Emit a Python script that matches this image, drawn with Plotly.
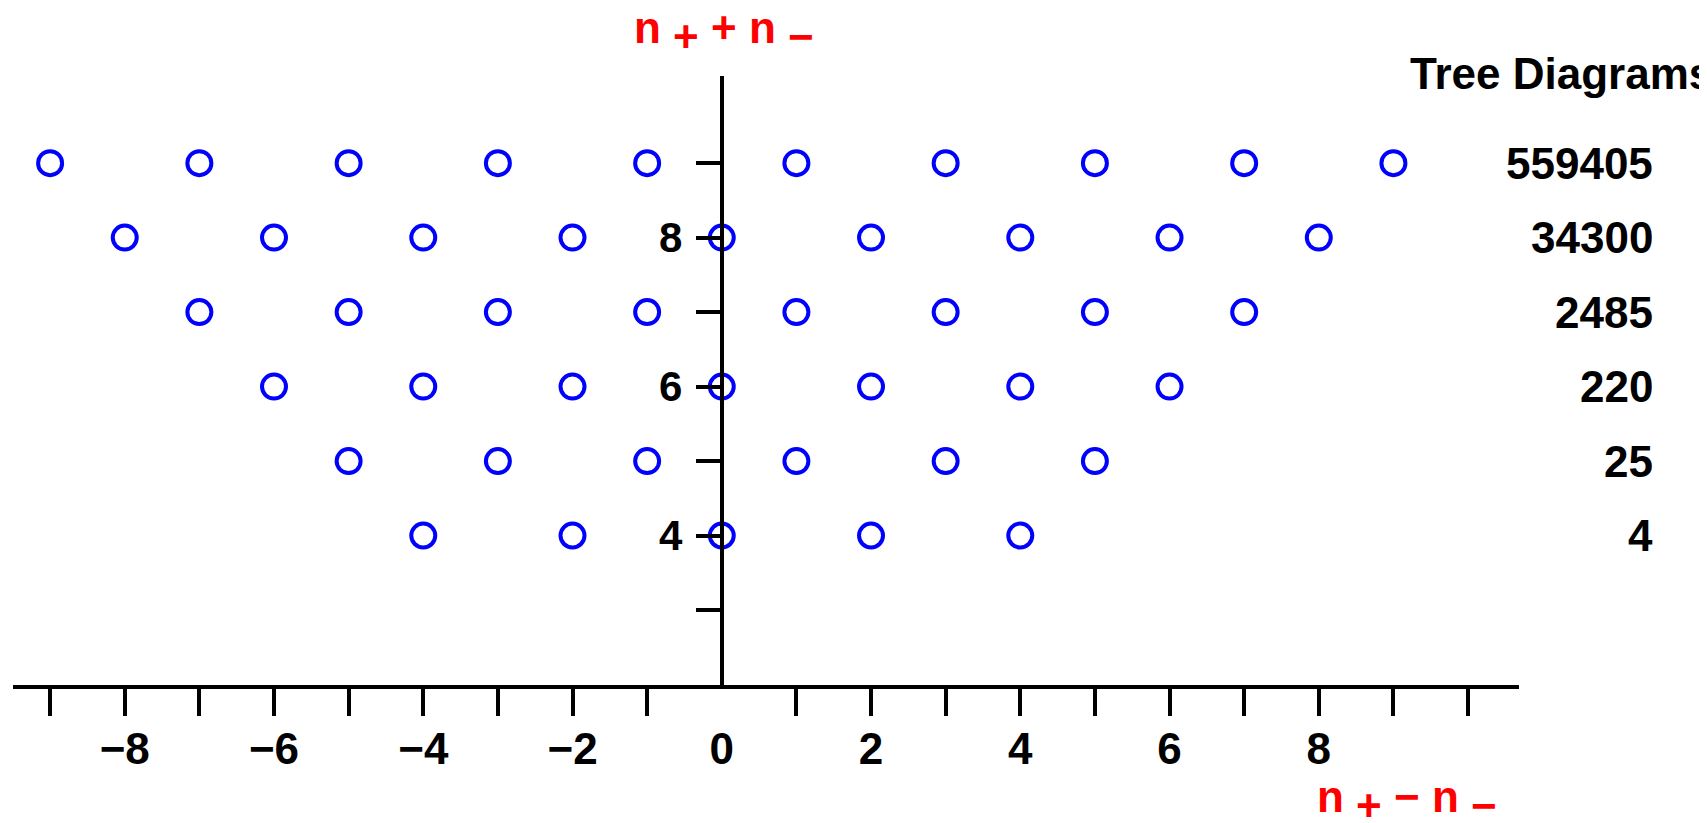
import plotly.graph_objects as go

# ---- data ----
row_y = [9, 8, 7, 6, 5, 4]
row_x = [
    [-9, -7, -5, -3, -1, 1, 3, 5, 7, 9],
    [-8, -6, -4, -2, 0, 2, 4, 6, 8],
    [-7, -5, -3, -1, 1, 3, 5, 7],
    [-6, -4, -2, 0, 2, 4, 6],
    [-5, -3, -1, 1, 3, 5],
    [-4, -2, 0, 2, 4],
]
tree_counts = ["559405", "34300", "2485", "220", "25", "4"]

x_tick_vals = [-9, -8, -7, -6, -5, -4, -3, -2, -1, 1, 2, 3, 4, 5, 6, 7, 8, 9, 10]
x_label_vals = [-8, -6, -4, -2, 0, 2, 4, 6, 8]
x_label_text = ["−8", "−6", "−4", "−2", "0", "2", "4", "6", "8"]
y_tick_vals = [3, 4, 5, 6, 7, 8, 9]
y_tick_text = ["", "4", "", "6", "", "8", ""]

xs, ys = [], []
for yv, row in zip(row_y, row_x):
    for xv in row:
        xs.append(xv)
        ys.append(yv)

# page body has an 8px margin; figure sized to fill the rest of the window
W, H = 1699, 815
FONT = "Liberation Sans, Arial, Helvetica, sans-serif"

fig = go.Figure()
fig.add_trace(go.Scatter(
    x=xs, y=ys, mode="markers",
    marker=dict(symbol="circle-open", size=24, color="#0000ff",
                line=dict(width=4, color="#0000ff")),
    cliponaxis=False, showlegend=False, hoverinfo="x+y",
))
# dummy trace for the label axis
fig.add_trace(go.Scatter(x=[None], y=[None], xaxis="x2", yaxis="y", showlegend=False))

xdom = [4.8 / W, 1510.8 / W]
ydom = [(H - 676.5) / H, (H - 68) / H]

fig.update_layout(
    width=W, height=H,
    margin=dict(l=0, r=0, t=0, b=0),
    paper_bgcolor="white", plot_bgcolor="white",
    font=dict(family=FONT, color="black", size=40, weight="bold"),
    xaxis=dict(
        domain=xdom, range=[-9.5, 10.68], anchor="y",
        showgrid=False, zeroline=False,
        showline=True, linewidth=4, linecolor="black",
        tickmode="array", tickvals=x_tick_vals,
        ticks="outside", ticklen=27, tickwidth=4, tickcolor="black",
        showticklabels=False,
    ),
    xaxis2=dict(
        domain=xdom, range=[-9.5, 10.68], anchor="y", overlaying="x",
        showgrid=False, zeroline=False, showline=False,
        tickmode="array", tickvals=x_label_vals, ticktext=x_label_text,
        ticks="outside", ticklen=26, tickwidth=1, tickcolor="rgba(0,0,0,0)",
        tickfont=dict(family=FONT, size=44, weight="bold", color="black"),
    ),
    yaxis=dict(
        domain=ydom, range=[2, 10.17], anchor="free", position=713.8 / W,
        showgrid=False, zeroline=False,
        showline=True, linewidth=4, linecolor="black",
        tickmode="array", tickvals=y_tick_vals, ticktext=y_tick_text,
        ticks="outside", ticklen=24, tickwidth=4, tickcolor="black",
        tickfont=dict(family=FONT, size=42, weight="bold", color="black"),
        ticklabelstandoff=5,
    ),
)

# right-hand tree diagram counts
for yv, txt in zip(row_y, tree_counts):
    fig.add_annotation(x=1647 / W, y=yv, xref="paper", yref="y",
                       xanchor="right", yanchor="middle", showarrow=False,
                       text=txt, font=dict(family=FONT, size=44, weight="bold", color="black"))

fig.add_annotation(x=1400 / W, y=1 - 66 / H, xref="paper", yref="paper",
                   xanchor="left", yanchor="middle", showarrow=False,
                   text="Tree Diagrams", font=dict(family=FONT, size=44, weight="bold", color="black"))

sub = "<sub><span style='font-size:44px'>%s</span></sub>"
fig.add_annotation(x=716 / W, y=1 - 24 / H, xref="paper", yref="paper",
                   xanchor="center", yanchor="middle", showarrow=False,
                   text="n " + sub % "+" + " + n " + sub % "−",
                   font=dict(family=FONT, size=44, weight="bold", color="#ff0000"))
fig.add_annotation(x=1399 / W, y=1 - 793 / H, xref="paper", yref="paper",
                   xanchor="center", yanchor="middle", showarrow=False,
                   text="n " + sub % "+" + " − n " + sub % "−",
                   font=dict(family=FONT, size=44, weight="bold", color="#ff0000"))

fig.write_html("out.html")
